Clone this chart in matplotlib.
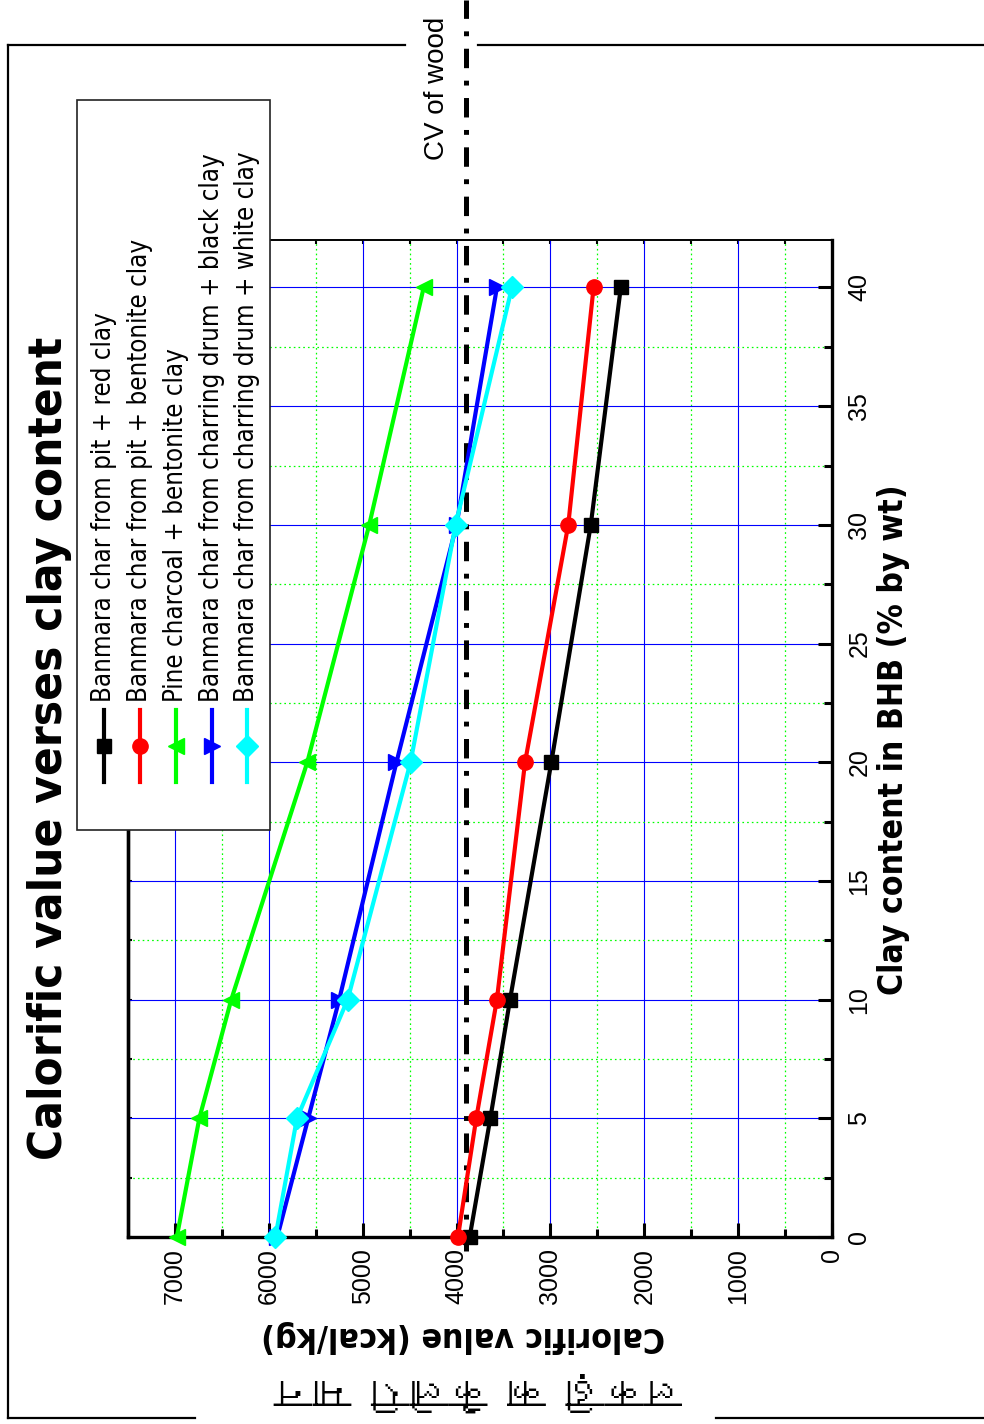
import numpy as np
import matplotlib
matplotlib.use('Agg')
import matplotlib.pyplot as plt
from matplotlib import font_manager
from matplotlib.font_manager import FontProperties
from matplotlib.ft2font import FT2Font
from matplotlib.lines import Line2D
from matplotlib.patches import Rectangle
from matplotlib.ticker import MultipleLocator

# data (clay content % by wt -> calorific value kcal/kg)
clay = [0, 5, 10, 20, 30, 40]
pit_red = [3860, 3640, 3430, 2990, 2570, 2250]
pit_bentonite = [3985, 3790, 3570, 3270, 2810, 2540]
pine_bentonite = [6980, 6740, 6400, 5590, 4930, 4350]
drum_black = [5910, 5580, 5250, 4640, 4000, 3570]
drum_white = [5930, 5700, 5160, 4490, 4010, 3410]
cv_wood = 3900

labels = ['Banmara char from pit + red clay',
          'Banmara char from pit + bentonite clay',
          'Pine charcoal + bentonite clay',
          'Banmara char from charring drum + black clay',
          'Banmara char from charring drum + white clay']
series = [pit_red, pit_bentonite, pine_bentonite, drum_black, drum_white]
colors = ['black', 'red', '#00ff00', 'blue', 'cyan']
# the page is turned 90 deg, so markers are turned too
markers = ['s', 'o', '<', '>', 'D']
msizes = [10, 11, 12, 12, 11]

title = 'Calorific value verses clay content'
xlab = 'Clay content in BHB (% by wt)'
ylab = 'Calorific value (kcal/kg)'
hindi = 'लकड़ी का कैलोरी मान'

# look for a narrow / condensed face, like Arial Narrow in the original
narrow_reg = None
narrow_bold = None
for f in font_manager.fontManager.ttflist:
    key = f.name + ' ' + str(f.stretch)
    if 'Narrow' in key or 'ondensed' in key:
        w = f.weight if isinstance(f.weight, int) else (700 if 'bold' in str(f.weight) else 400)
        if f.style != 'normal':
            continue
        if w >= 600 and narrow_bold is None:
            narrow_bold = f.fname
        if w < 600 and narrow_reg is None:
            narrow_reg = f.fname

deva = None
for f in font_manager.fontManager.ttflist:
    try:
        if 0x0915 in FT2Font(f.fname).get_charmap():
            deva = f.name
            break
    except Exception:
        pass

plt.rcParams['font.family'] = ['Liberation Sans', 'DejaVu Sans']
plt.rcParams['lines.scale_dashes'] = False


def nfont(size, bold=False):
    path = narrow_bold if bold else narrow_reg
    if path is not None:
        return FontProperties(fname=path, size=size)
    # no narrow face: shrink a bit so the text keeps its length
    return FontProperties(family='Liberation Sans', size=size * 1.08,
                          weight='bold' if bold else 'normal')


W, H = 984, 1424
fig = plt.figure(figsize=(W / 100, H / 100), dpi=100)
fig.patch.set_facecolor('white')


def fx(x):
    return x / W


def fy(y):
    return 1 - y / H


ax = fig.add_axes([fx(128), fy(1237), fx(832) - fx(128), fy(240) - fy(1237)])
ax.set_xlim(7500, 0)
ax.set_ylim(0, 42)

ax.xaxis.set_major_locator(MultipleLocator(1000))
ax.xaxis.set_minor_locator(MultipleLocator(500))
ax.yaxis.set_major_locator(MultipleLocator(5))
ax.yaxis.set_minor_locator(MultipleLocator(2.5))
ax.grid(which='major', color='blue', lw=0.8, ls='-')
ax.grid(which='minor', color='#00ff00', lw=0.9, ls=(0, (1.2, 2.2)))
ax.set_axisbelow(True)

ax.yaxis.tick_right()
ax.tick_params(which='both', direction='in', width=2.2, colors='black')
ax.tick_params(which='major', length=10)
ax.tick_params(which='minor', length=6)
ax.tick_params(axis='x', which='major', labelsize=18, labelrotation=90, pad=8)
ax.tick_params(axis='y', which='major', labelsize=18, labelrotation=90, pad=11)
for t in ax.get_yticklabels():
    t.set_va('center')
for s in ['left', 'bottom', 'right']:
    ax.spines[s].set_linewidth(2.4)
ax.spines['top'].set_linewidth(1.2)

top = ax.secondary_xaxis('top')
top.xaxis.set_major_locator(MultipleLocator(1000))
top.xaxis.set_minor_locator(MultipleLocator(500))
top.tick_params(which='both', direction='in', length=3, width=1.5, labeltop=False)
top.spines['top'].set_linewidth(1.2)
left = ax.secondary_yaxis('left')
left.yaxis.set_major_locator(MultipleLocator(5))
left.yaxis.set_minor_locator(MultipleLocator(2.5))
left.tick_params(which='both', direction='in', length=3, width=1.5, labelleft=False)
left.spines['left'].set_linewidth(2.4)

order = [1, 0, 2, 3, 4]
for i in order:
    ax.plot(series[i], clay, color=colors[i], lw=3, marker=markers[i],
            ms=msizes[i], mec=colors[i], mfc=colors[i], clip_on=False, zorder=3 + i)

ax.axvline(cv_wood, ymin=-0.014, ymax=1.241, color='black', lw=3.6,
           ls=(0, (14, 9, 3.5, 9)), clip_on=False, zorder=2)
fig.text(fx(437), fy(88), 'CV of wood', rotation=90, ha='center', va='center',
         fontsize=20)

# legend drawn by hand, turned with the page
fig.add_artist(Rectangle((fx(77), fy(830)), fx(270) - fx(77), fy(100) - fy(830),
                         transform=fig.transFigure, facecolor='white',
                         edgecolor='#222222', lw=1.2, zorder=5))
cols = [104, 140, 176, 212, 247]
for i in range(5):
    fig.add_artist(Line2D([fx(cols[i]), fx(cols[i])], [fy(782), fy(710)],
                          transform=fig.transFigure, color=colors[i], lw=3, zorder=6))
    fig.add_artist(Line2D([fx(cols[i])], [fy(746)], transform=fig.transFigure,
                          marker=markers[i], ms=msizes[i], color=colors[i], zorder=7))
    fig.text(fx(cols[i]), fy(702), labels[i], rotation=90, ha='center', va='bottom',
             fontproperties=nfont(18.5 if narrow_reg else 21), zorder=8)

fig.text(fx(50), fy(748), title, rotation=90, ha='center', va='center',
         fontproperties=nfont(34, bold=True))
fig.text(fx(893), fy(740), xlab, rotation=90, ha='center', va='center',
         fontproperties=nfont(24.2, bold=True))
fig.text(fx(463), fy(1337), ylab, rotation=180, ha='center', va='center',
         fontproperties=nfont(24.3, bold=True))
if deva is not None:
    fig.text(fx(478), fy(1392), hindi.replace('ड़', '\u095c'), rotation=180,
             ha='center', va='center', fontsize=28, family=[deva, 'DejaVu Sans'])

# page frame
frame = [((8, 45), (8, 1418)), ((8, 45), (405, 45)), ((478, 45), (984, 45)),
         ((8, 1418), (195, 1418)), ((716, 1418), (984, 1418))]
for (x0, y0), (x1, y1) in frame:
    fig.add_artist(Line2D([fx(x0), fx(x1)], [fy(y0), fy(y1)],
                          transform=fig.transFigure, color='black', lw=1.6))

fig.savefig('out.png', dpi=100)
